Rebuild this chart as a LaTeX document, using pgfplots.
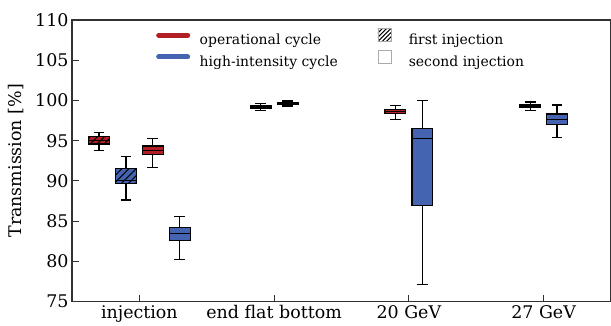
\documentclass[border=0pt]{standalone}
\usepackage{fontspec}
\setmainfont{DejaVu Serif}
\usepackage{pgfplots}
\pgfplotsset{compat=1.18}
\usetikzlibrary{patterns.meta}

\definecolor{opred}{RGB}{178,32,38}
\definecolor{hiblue}{RGB}{68,100,178}
\definecolor{axisgray}{RGB}{50,50,50}
\definecolor{boxgray}{RGB}{170,170,170}

\tikzset{
  hatch/.style={postaction={pattern={Lines[angle=45,distance=5bp,line width=1.1bp]},pattern color=black}},
  boxline/.style={draw=black, line width=1.3bp, line join=miter},
}

% box-and-whisker glyph: #1 position, #2 lower whisker, #3 lower quartile,
% #4 median, #5 upper quartile, #6 upper whisker, #7 box fill style
\newcommand{\tukeybox}[7]{%
  \pgfmathsetmacro\bxl{#1-0.0775}\pgfmathsetmacro\bxr{#1+0.0775}%
  \pgfmathsetmacro\cxl{#1-0.04}\pgfmathsetmacro\cxr{#1+0.04}%
  \addplot[boxline] coordinates {(#1,#2) (#1,#3)};
  \addplot[boxline] coordinates {(#1,#5) (#1,#6)};
  \addplot[boxline] coordinates {(\cxl,#2) (\cxr,#2)};
  \addplot[boxline] coordinates {(\cxl,#6) (\cxr,#6)};
  \addplot[boxline, #7] coordinates {(\bxl,#3) (\bxr,#3) (\bxr,#5) (\bxl,#5)} -- cycle;
  \addplot[boxline] coordinates {(\bxl,#4) (\bxr,#4)};
}

\begin{document}
\begin{tikzpicture}
\begin{axis}[
  at={(0,0)}, anchor=south west,
  scale only axis, width=539bp, height=281.7bp,
  xmin=-0.5, xmax=3.5, ymin=75, ymax=110,
  xtick={0,1,2,3},
  xticklabels={injection, end flat bottom, 20 GeV, 27 GeV},
  ytick={75,80,...,110},
  xtick pos=bottom, ytick pos=left,
  tick align=inside, major tick length=7bp,
  tick style={axisgray, line width=1bp},
  axis line style={axisgray, line width=1.3bp},
  /pgf/number format/assume math mode=true,
  tick label style={font=\fontsize{17.5}{20}\selectfont},
  label style={font=\fontsize{17.5}{20}\selectfont},
  ylabel={Transmission [\%]},
  ylabel style={at={(axis description cs:-0.104,0.5)}, anchor=center},
  legend columns=2,
  legend style={
    at={(axis description cs:0.1503,0.9787)}, anchor=north west,
    draw=none, fill=none,
    font=\fontsize{14}{17}\selectfont,
    row sep=3.4bp,
    nodes={inner xsep=2.5bp, inner ysep=1bp},
    cells={anchor=west},
    /tikz/column 1/.append style={column sep=7bp},
    /tikz/column 2/.append style={column sep=27bp},
    /tikz/column 3/.append style={column sep=5bp},
  },
]

% legend entries
\addlegendimage{legend image code/.code={\draw[opred, line width=5bp, line cap=round] (2.5bp,4.5bp) -- (31.5bp,4.5bp);}}
\addlegendentry{operational cycle}
\addlegendimage{legend image code/.code={\draw[draw=boxgray, line width=0.6bp, fill=white, postaction={pattern={Lines[angle=45,distance=3bp,line width=1.1bp]},pattern color=black}] (10.5bp,-2bp) rectangle (23.5bp,11bp); \path[draw=none] (0bp,0bp) rectangle (34bp,9bp);}}
\addlegendentry{first injection}
\addlegendimage{legend image code/.code={\draw[hiblue, line width=5bp, line cap=round] (2.5bp,4.5bp) -- (31.5bp,4.5bp);}}
\addlegendentry{high-intensity cycle}
\addlegendimage{legend image code/.code={\draw[draw=boxgray, line width=0.6bp, fill=white] (10.5bp,-2bp) rectangle (23.5bp,11bp); \path[draw=none] (0bp,0bp) rectangle (34bp,9bp);}}
\addlegendentry{second injection}

% injection: first injection (hatched) and second injection
\tukeybox{-0.3}{93.8}{94.6}{95.0}{95.55}{96.05}{fill=opred, hatch}
\tukeybox{-0.1}{87.65}{89.7}{90.05}{91.55}{93.0}{fill=hiblue, hatch}
\tukeybox{0.1}{91.7}{93.25}{93.8}{94.35}{95.25}{fill=opred}
\tukeybox{0.3}{80.2}{82.6}{83.5}{84.25}{85.6}{fill=hiblue}

% end flat bottom
\tukeybox{0.9}{98.75}{99.05}{99.2}{99.35}{99.6}{fill=opred}
\tukeybox{1.1}{99.3}{99.5}{99.6}{99.72}{99.95}{fill=hiblue}

% 20 GeV
\tukeybox{1.9}{97.62}{98.35}{98.6}{98.9}{99.4}{fill=opred}
\tukeybox{2.1}{77.15}{86.98}{95.3}{96.5}{100.0}{fill=hiblue}

% 27 GeV
\tukeybox{2.9}{98.78}{99.2}{99.36}{99.5}{99.81}{fill=opred}
\tukeybox{3.1}{95.43}{97.0}{97.6}{98.32}{99.44}{fill=hiblue}

\end{axis}
\pgfresetboundingbox
\path (-72bp,-24.3bp) rectangle (539bp,301.7bp);
\end{tikzpicture}
\end{document}
